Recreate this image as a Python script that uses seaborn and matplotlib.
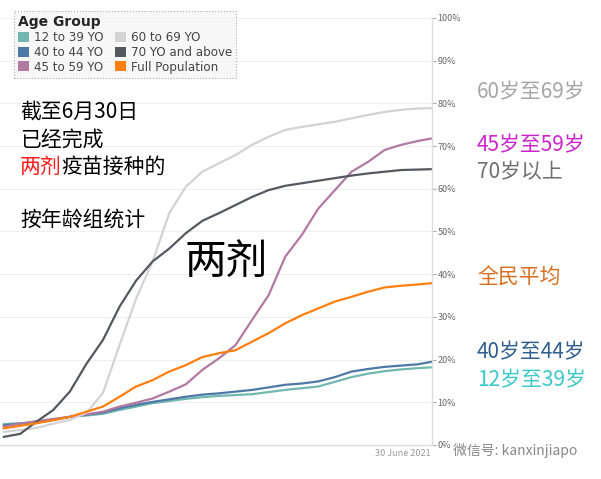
import numpy as np
import pandas as pd
import seaborn as sns
import matplotlib.pyplot as plt
from matplotlib.patches import Patch

# days since 1 Jan 2021, roughly weekly up to 30 June
days = [0, 7, 14, 21, 28, 35, 42, 49, 56, 63, 70, 77, 84, 91, 98,
        105, 112, 119, 126, 133, 140, 147, 154, 161, 168, 175, 181]

age_12_39 = [4.9, 5.1, 5.3, 5.9, 6.6, 6.9, 7.3, 8.2, 9.0, 9.8, 10.3, 10.8, 11.2, 11.5,
             11.7, 11.9, 12.4, 12.9, 13.3, 13.7, 14.8, 15.9, 16.7, 17.3, 17.7, 18.0, 18.2]
age_40_44 = [4.6, 5.0, 5.3, 5.9, 6.6, 7.1, 7.6, 8.6, 9.4, 10.1, 10.7, 11.3, 11.8, 12.1,
             12.5, 12.9, 13.5, 14.1, 14.4, 14.9, 15.9, 17.2, 17.8, 18.3, 18.6, 18.9, 19.5]
age_45_59 = [4.3, 5.0, 5.6, 6.1, 6.6, 7.2, 7.8, 9.0, 9.9, 10.9, 12.5, 14.2, 17.6, 20.3,
             23.4, 29.3, 35.1, 44.1, 49.2, 55.4, 59.7, 64.0, 66.3, 69.1, 70.3, 71.2, 71.8]
age_60_69 = [3.1, 3.5, 4.0, 5.0, 5.9, 7.5, 12.2, 23.4, 34.3, 43.0, 54.3, 60.5, 64.0, 66.0,
             67.9, 70.3, 72.2, 73.8, 74.5, 75.1, 75.7, 76.5, 77.3, 78.0, 78.5, 78.8, 78.9]
age_70_up = [1.9, 2.6, 5.5, 8.2, 12.5, 19.0, 24.6, 32.4, 38.5, 43.0, 46.0, 49.6, 52.5, 54.3,
             56.2, 58.1, 59.7, 60.7, 61.3, 61.9, 62.5, 63.1, 63.6, 64.0, 64.4, 64.5, 64.6]
full_pop = [3.9, 4.5, 5.1, 5.8, 6.6, 7.8, 9.0, 11.3, 13.7, 15.2, 17.2, 18.7, 20.6, 21.5,
            22.2, 24.2, 26.2, 28.5, 30.4, 32.0, 33.6, 34.7, 35.9, 36.9, 37.3, 37.6, 37.9]

groups = ['12 to 39 YO', '40 to 44 YO', '45 to 59 YO',
          '60 to 69 YO', '70 YO and above', 'Full Population']
series = [age_12_39, age_40_44, age_45_59, age_60_69, age_70_up, full_pop]
colors = ['#72b7b0', '#4e79a7', '#b07aa1', '#d3d3d3', '#55585f', '#ff7f0e']
palette = dict(zip(groups, colors))

yticks = [0, 10, 20, 30, 40, 50, 60, 70, 80, 90, 100]

df = pd.concat([pd.DataFrame({'day': days, 'pct': s, 'group': g})
                for g, s in zip(groups, series)], ignore_index=True)

sns.set_theme(style='white')
plt.rcParams['font.family'] = ['Noto Sans CJK SC', 'DejaVu Sans']

fig = plt.figure(figsize=(6.01, 4.79), dpi=100)
ax = fig.add_axes([0.0, 34 / 479, 432 / 601, 427 / 479])

sns.lineplot(data=df, x='day', y='pct', hue='group', palette=palette,
             linewidth=1.6, legend=False, ax=ax)

ax.set_xlim(-1.5, 181)
ax.set_ylim(0, 100)
ax.set_xticks([])
ax.set_xlabel('')
ax.set_ylabel('')
ax.yaxis.tick_right()
ax.set_yticks(yticks)
ax.set_yticklabels([f'{t}%' for t in yticks])
ax.tick_params(axis='y', right=True, length=3, width=0.6, color='#999999',
               pad=1, labelsize=6.5, labelcolor='#666666')
ax.grid(axis='y', color='#efefef', linewidth=0.8)
for s in ['top', 'left']:
    ax.spines[s].set_visible(False)
for s in ['right', 'bottom']:
    ax.spines[s].set_color('#dddddd')
    ax.spines[s].set_linewidth(1.0)

# legend
handles = [Patch(facecolor=c, edgecolor='none') for c in colors]
leg = fig.legend(handles, groups, title='Age Group', ncol=2,
                 loc='upper left', bbox_to_anchor=(14 / 601, 1 - 11 / 479),
                 borderaxespad=0,
                 prop={'family': 'DejaVu Sans', 'size': 8.6},
                 title_fontproperties={'family': 'DejaVu Sans', 'weight': 'bold', 'size': 10},
                 alignment='left', handlelength=0.9, handleheight=0.9,
                 handletextpad=0.4, columnspacing=1.0, labelspacing=0.15,
                 borderpad=0.35, frameon=True, fancybox=False)
leg.get_frame().set_facecolor('#f5f5f5')
leg.get_frame().set_edgecolor('#999999')
leg.get_frame().set_linestyle(':')
leg.get_frame().set_linewidth(0.8)
for t in leg.get_texts():
    t.set_color('#444444')

# left side notes
def px(x, y):
    return x / 601, 1 - y / 479

fig.text(*px(20, 112), '截至6月30日', fontsize=15, va='center', color='black')
fig.text(*px(20, 140), '已经完成', fontsize=15, va='center', color='black')
red = fig.text(*px(20, 167), '两剂', fontsize=15, va='center', color='#ff1a1a')
ax.annotate('疫苗接种的', xy=(1, 0.5), xycoords=red, fontsize=15,
            va='center', ha='left', color='black', annotation_clip=False)
fig.text(*px(20, 220), '按年龄组统计', fontsize=15, va='center', color='black')
fig.text(*px(226, 262), '两剂', fontsize=30, va='center', ha='center', color='black')

# right side labels
right_labels = [('60岁至69岁', 92, '#a6a6a6'), ('45岁至59岁', 145, '#cc22cc'),
                ('70岁以上', 172, '#707070'), ('全民平均', 278, '#d9701f'),
                ('40岁至44岁', 352, '#2f5f8f'), ('12岁至39岁', 380, '#3cc8c8')]
for txt, yy, c in right_labels:
    fig.text(*px(477, yy), txt, fontsize=15, va='center', color=c)

fig.text(*px(431, 453), '30 June 2021', fontsize=6.5, ha='right', va='center',
         color='#999999')
fig.text(*px(453, 451), '微信号: kanxinjiapo', fontsize=10, va='center',
         color='#888888')

fig.savefig('out.png', dpi=100)
